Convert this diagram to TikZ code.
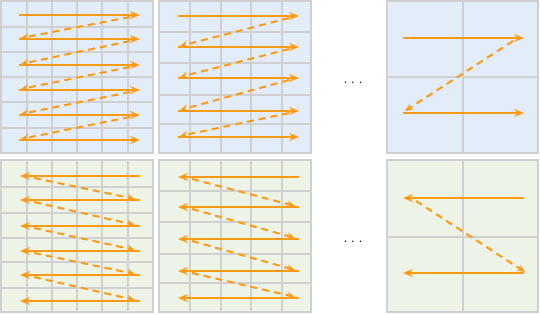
\documentclass[tikz,border=0pt]{standalone}
\usetikzlibrary{arrows.meta}
\definecolor{orng}{HTML}{FF9A14}
\definecolor{bluefill}{HTML}{E3ECF9}
\definecolor{greenfill}{HTML}{EDF3E6}
\definecolor{gridgray}{HTML}{D0D0D0}
\tikzset{
  gridline/.style={draw=gridgray, line width=1.8pt},
  scanarrow/.style={draw=orng, line width=2.2pt, -{Stealth[length=10pt,width=8pt,inset=3.5pt]}},
  jumparrow/.style={draw=orng, line width=2pt, dash pattern=on 7pt off 5pt, -{Stealth[length=8pt,width=7pt,inset=3pt]}},
  dotsnode/.style={font=\fontsize{18}{20}\selectfont, inner sep=0pt}
}
\begin{document}
\begin{tikzpicture}[x=1pt,y=-1pt]
\useasboundingbox (0,0) rectangle (540,314);
% ---------- panels ----------
% P1 top-left 6x6
\begin{scope}[shift={(1,1)}]
  \fill[bluefill] (0,0) rectangle (152,152);
  \foreach \v in {26,51,76,101,127} {\draw[gridline] (\v,0) -- (\v,152); \draw[gridline] (0,\v) -- (152,\v);}
  \draw[gridline] (0,0) rectangle (152,152);
\end{scope}
% P2 top-middle 5x5
\begin{scope}[shift={(159,1)}]
  \fill[bluefill] (0,0) rectangle (152,152);
  \foreach \v in {31,62,92,123} {\draw[gridline] (\v,0) -- (\v,152);}
  \foreach \v in {31,62,94,123} {\draw[gridline] (0,\v) -- (152,\v);}
  \draw[gridline] (0,0) rectangle (152,152);
\end{scope}
% P3 top-right 2x2
\begin{scope}[shift={(387,1)}]
  \fill[bluefill] (0,0) rectangle (151,152);
  \draw[gridline] (76,0) -- (76,152);
  \draw[gridline] (0,76) -- (151,76);
  \draw[gridline] (0,0) rectangle (151,152);
\end{scope}
% P4 bottom-left 6x6
\begin{scope}[shift={(1,160)}]
  \fill[greenfill] (0,0) rectangle (152,152);
  \foreach \v in {26,51,76,101,127} {\draw[gridline] (\v,0) -- (\v,152);}
  \foreach \v in {27,53,78,102,128} {\draw[gridline] (0,\v) -- (152,\v);}
  \draw[gridline] (0,0) rectangle (152,152);
\end{scope}
% P5 bottom-middle 5x5
\begin{scope}[shift={(159,160)}]
  \fill[greenfill] (0,0) rectangle (152,152);
  \foreach \v in {31,62,92,123} {\draw[gridline] (\v,0) -- (\v,152);}
  \foreach \v in {31,62,94,123} {\draw[gridline] (0,\v) -- (152,\v);}
  \draw[gridline] (0,0) rectangle (152,152);
\end{scope}
% P6 bottom-right 2x2
\begin{scope}[shift={(387,160)}]
  \fill[greenfill] (0,0) rectangle (151,152);
  \draw[gridline] (76,0) -- (76,152);
  \draw[gridline] (0,77) -- (151,77);
  \draw[gridline] (0,0) rectangle (151,152);
\end{scope}
% ---------- arrows ----------
% P1
\foreach \y in {15,39,65,90,115,140} {\draw[scanarrow] (19,\y) -- (140,\y);}
\foreach \a/\b in {15/39,39/65,65/90,90/115,115/140} {\draw[jumparrow] (130,\a+2) -- (21,\b-1);}
% P2
\foreach \y in {16,47,78,111,137} {\draw[scanarrow] (178,\y) -- (299,\y);}
\foreach \a/\b in {16/47,47/78,78/111,111/137} {\draw[jumparrow] (289,\a+2) -- (180,\b-1);}
% P3
\foreach \y in {38,113} {\draw[scanarrow] (403,\y) -- (524,\y);}
\draw[jumparrow] (513,41) -- (405,111);
% P4
\foreach \y in {176,200,226,251,275,301} {\draw[scanarrow] (140,\y) -- (20,\y);}
\foreach \a/\b in {176/200,200/226,226/251,251/275,275/301} {\draw[jumparrow] (34,\a+2) -- (135,\b-1);}
% P5
\foreach \y in {177,207,239,271,298} {\draw[scanarrow] (299,\y) -- (178,\y);}
\foreach \a/\b in {177/207,207/239,239/271,271/298} {\draw[jumparrow] (192,\a+2) -- (295,\b-1);}
% P6
\foreach \y in {198,273} {\draw[scanarrow] (524,\y) -- (403,\y);}
\draw[jumparrow] (416,201) -- (525,272);
% ---------- ellipses ----------
\node[dotsnode] (dotstop) at (353,83) {.\hspace{3pt}.\hspace{3pt}.};
\node[dotsnode] (dotsbot) at (353,242) {.\hspace{3pt}.\hspace{3pt}.};
\end{tikzpicture}
\end{document}
